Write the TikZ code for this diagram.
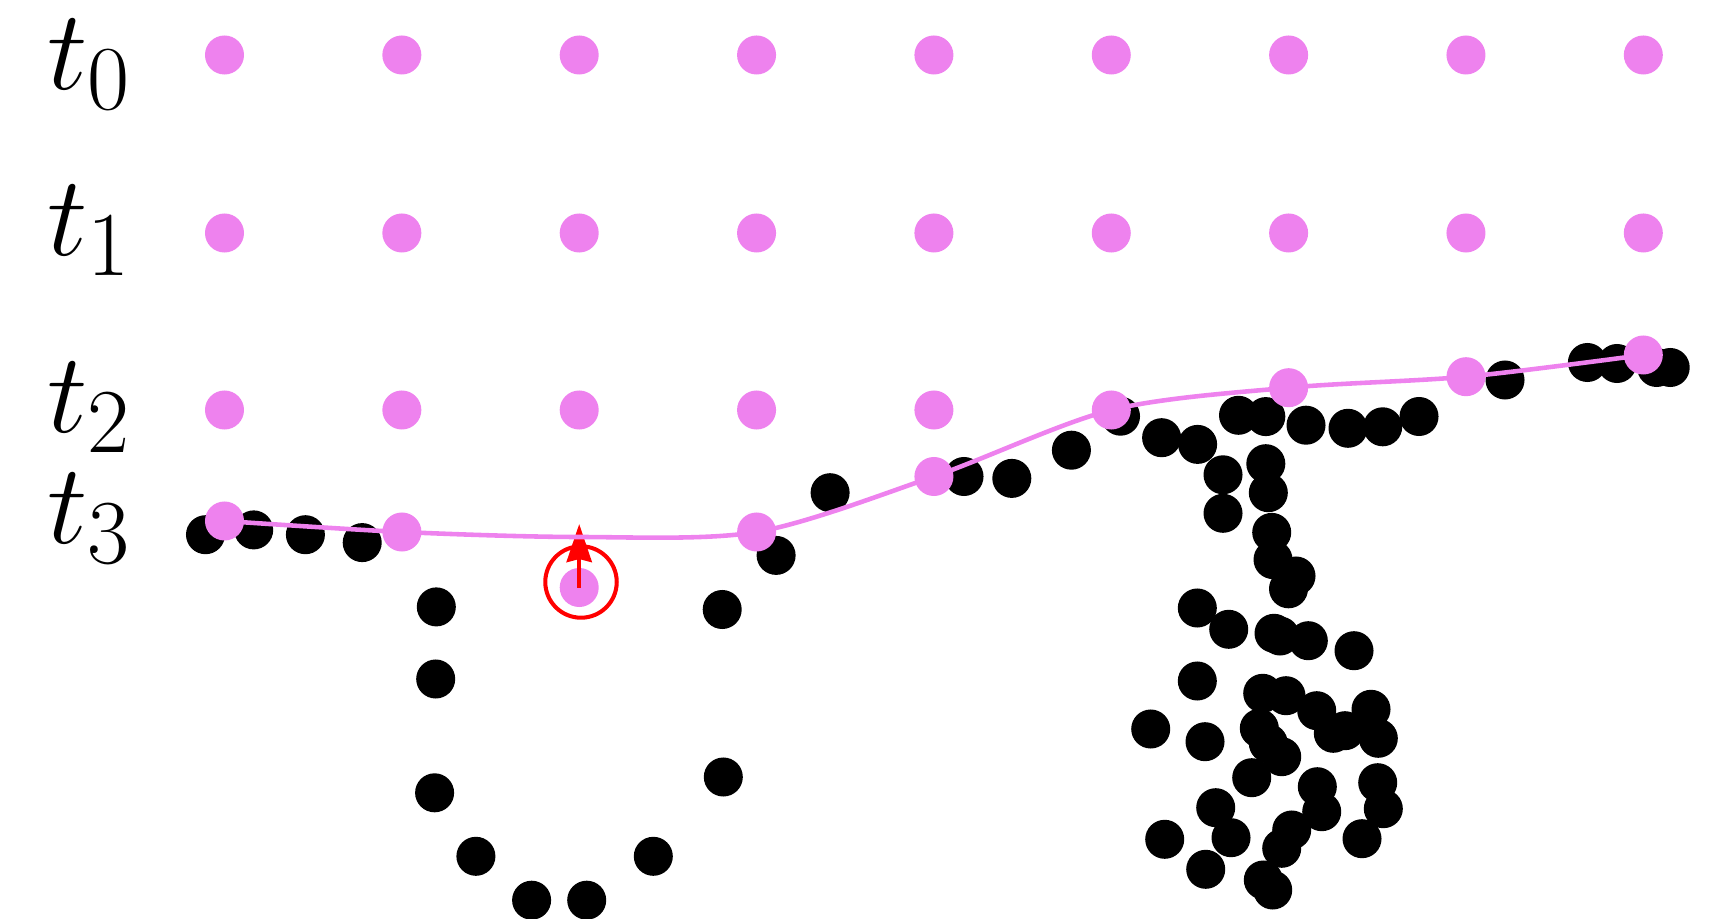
\RequirePackage{fix-cm}
\documentclass[tikz,border=0pt]{standalone}
\usepackage{tikz}
\usetikzlibrary{arrows.meta}

\definecolor{ptviolet}{RGB}{238,130,238}
\DeclareMathSizes{32.4}{32.4}{26}{18}

\begin{document}
\begin{tikzpicture}[x=0.01cm, y=-0.01cm,
    pinkdot/.style={circle, fill=ptviolet, inner sep=0pt, minimum size=0.39cm},
    blackdot/.style={circle, fill=black, inner sep=0pt, minimum size=0.39cm},
    timelabel/.style={anchor=base west, inner sep=0pt, font=\fontsize{32.4}{38}\selectfont}]

    \useasboundingbox (0,0) rectangle (1722,919);

    % Time labels
    \node[timelabel] (lbl0) at (47,90) {$t_0$};
    \node[timelabel] (lbl1) at (47,256) {$t_1$};
    \node[timelabel] (lbl2) at (47,433) {$t_2$};
    \node[timelabel] (lbl3) at (47,544) {$t_3$};

    % Black points
    \foreach \px/\py [count=\k] in {
        205.5/534.7, 253.7/529.9, 305.4/534.7, 362.2/542.6, 436.3/606.9,
        435.7/679, 434.6/792.8, 475.9/856.3, 531.6/900.2, 586.7/900.2,
        653.3/856.3, 723.3/777, 722.2/609.5, 776.1/555.4, 830.1/492.7,
        964/476.5, 1011.8/478.4, 1071.4/450.2, 1120.5/416.2, 1161.6/437.7,
        1197.6/444.4, 1238.5/415.3, 1265.8/416.6, 1306/425.2, 1348/428.3,
        1382.7/426.8, 1419/416.5, 1505/380, 1587.4/362.5, 1617/363.5,
        1656.6/367.5, 1670.2/367.5,
        1223/474.8, 1223/513.3, 1265.8/463.7, 1268.3/492.7, 1271.7/532.4,
        1273/559.6, 1296/576, 1288.5/588.8,
        1197.3/608, 1228.7/629.3, 1274/633.3, 1280/636, 1308.3/640.7,
        1354/650.7, 1197.3/681, 1150.7/729, 1205/741.7, 1262.7/693.3,
        1286/695.7, 1316.7/710.7, 1371/709.3, 1333.3/733.3, 1345/730.7,
        1378.3/738.3, 1259.3/728.3, 1268.3/743.3, 1281.7/756.7, 1251.7/777.7,
        1317.3/786.7, 1321.7/811.7, 1377.7/782.7, 1383.3/808.7, 1362/838.7,
        1291.7/830, 1281.7/848.3, 1215.7/807.7, 1231/837.7, 1164.7/839.3,
        1205.7/869.3, 1263.3/880, 1272.7/890}
        \node[blackdot] (b\k) at (\px,\py) {};

    % Grid points, rows t0 and t1
    \foreach \row/\ry in {0/55, 1/233}
        \foreach \col in {1,...,9}
            \node[pinkdot] (g\row-\col) at ({224.5+177.35*(\col-1)},\ry) {};

    % Row t2, left part
    \foreach \col in {1,...,5}
        \node[pinkdot] (g2-\col) at ({224.5+177.35*(\col-1)},410) {};

    % Displaced point and its correction
    \node[pinkdot] (moved) at (579.2,587.5) {};
    \node[circle, draw=red, line width=1.15pt, inner sep=0pt, minimum size=0.714cm] (ring) at (581,582) {};
    \coordinate (tip) at (579.2,524);
    \draw[red, line width=1.2pt, -{Stealth[length=3.8mm, width=2.5mm, inset=0.3mm]}] (moved.center) -- (tip);

    % Fitted curve
    \foreach \px/\py [count=\k] in {224.5/521, 401.9/532, 579.2/537, 756.6/532, 933.9/476.5,
        1111.3/410, 1288.6/387.7, 1466/376.7, 1643.3/355}
        \coordinate (k\k) at (\px,\py);
    \draw[ptviolet, line width=1.3pt] plot[smooth] coordinates {(k1) (k2) (k3) (k4) (k5) (k6) (k7) (k8) (k9)};
    \foreach \k in {1,2,4,5,6,7,8,9}
        \node[pinkdot] (c\k) at (k\k) {};

\end{tikzpicture}
\end{document}
